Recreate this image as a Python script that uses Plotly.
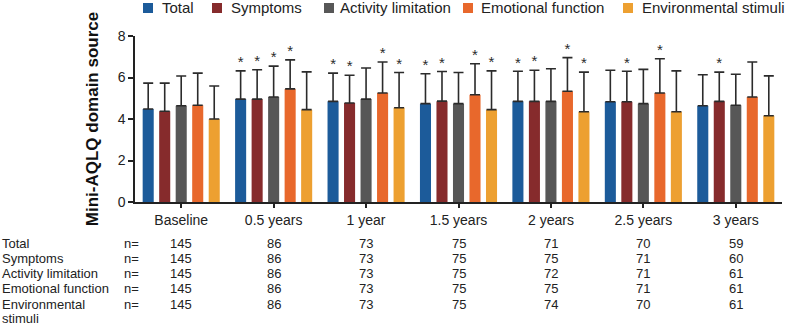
import plotly.graph_objects as go

categories = ["Baseline", "0.5 years", "1 year", "1.5 years", "2 years", "2.5 years", "3 years"]
series_names = ["Total", "Symptoms", "Activity limitation", "Emotional function", "Environmental stimuli"]
colors = ["#1c5b9a", "#862b2c", "#575757", "#e8682c", "#eda031"]

# mean values
total_mean = [4.48, 4.96, 4.85, 4.74, 4.85, 4.83, 4.64]
symptoms_mean = [4.37, 4.96, 4.77, 4.86, 4.85, 4.83, 4.85]
activity_mean = [4.64, 5.06, 4.96, 4.74, 4.85, 4.74, 4.66]
emotional_mean = [4.66, 5.45, 5.25, 5.17, 5.34, 5.25, 5.06]
environmental_mean = [4.00, 4.45, 4.54, 4.45, 4.35, 4.35, 4.16]

# upper end of error bars (mean + SD)
total_upper = [5.73, 6.32, 6.21, 6.18, 6.30, 6.35, 6.13]
symptoms_upper = [5.73, 6.37, 6.11, 6.29, 6.35, 6.30, 6.26]
activity_upper = [6.07, 6.55, 6.46, 6.24, 6.42, 6.39, 6.16]
emotional_upper = [6.21, 6.85, 6.75, 6.66, 6.96, 6.90, 6.75]
environmental_upper = [5.59, 6.27, 6.24, 6.32, 6.26, 6.32, 6.08]

# significance markers (1 = star)
total_sig = [0, 1, 1, 1, 1, 0, 0]
symptoms_sig = [0, 1, 1, 1, 1, 1, 1]
activity_sig = [0, 1, 0, 0, 0, 0, 0]
emotional_sig = [0, 1, 1, 1, 1, 1, 0]
environmental_sig = [0, 0, 1, 1, 1, 0, 0]

# sample sizes per row
n_total = [145, 86, 73, 75, 71, 70, 59]
n_symptoms = [145, 86, 73, 75, 75, 71, 60]
n_activity = [145, 86, 73, 75, 72, 71, 61]
n_emotional = [145, 86, 73, 75, 75, 71, 61]
n_environmental = [145, 86, 73, 75, 74, 70, 61]

table_labels = [["Total"], ["Symptoms"], ["Activity limitation"], ["Emotional function"],
                ["Environmental", "stimuli"]]

means = [total_mean, symptoms_mean, activity_mean, emotional_mean, environmental_mean]
uppers = [total_upper, symptoms_upper, activity_upper, emotional_upper, environmental_upper]
sigs = [total_sig, symptoms_sig, activity_sig, emotional_sig, environmental_sig]
ns = [n_total, n_symptoms, n_activity, n_emotional, n_environmental]

FONT = "Arial, Liberation Sans, sans-serif"
TXT = "#222222"

fig = go.Figure()
for i, name in enumerate(series_names):
    m = means[i]
    up = [u - v for u, v in zip(uppers[i], m)]
    fig.add_trace(go.Bar(
        x=categories, y=m, name=name, offsetgroup=str(i), showlegend=False,
        marker=dict(color=colors[i], line=dict(width=0)),
        error_y=dict(type="data", symmetric=False, array=up,
                     arrayminus=[0] * len(m), color="#2b2b2b",
                     thickness=1.6, width=5),
    ))

for i, name in enumerate(series_names):
    txt = ["*" if s else "" for s in sigs[i]]
    fig.add_trace(go.Scatter(
        x=categories, y=uppers[i], mode="text", text=txt,
        textposition="top center", offsetgroup=str(i),
        textfont=dict(size=15, color="#2b2b2b", family=FONT),
        showlegend=False, hoverinfo="skip",
    ))

W, H = 785, 325
plot_left, plot_right, plot_top, plot_bottom = 135, 782, 36, 202
pw = plot_right - plot_left
ph = plot_bottom - plot_top

def px_to_paper_x(px):
    return (px - plot_left) / pw

def py_to_paper_y(py):
    return (plot_bottom - py) / ph

shapes = []
annotations = []

# legend (swatch + label) along the top
legend_swatch_px = [143, 212, 324, 463, 623]
legend_text_px = [160, 229, 338, 479, 640]
legend_y = 8
for i, name in enumerate(series_names):
    shapes.append(dict(
        type="rect", xref="paper", yref="paper",
        x0=px_to_paper_x(legend_swatch_px[i]), x1=px_to_paper_x(legend_swatch_px[i] + 10),
        y0=py_to_paper_y(legend_y + 5), y1=py_to_paper_y(legend_y - 5),
        fillcolor=colors[i], line=dict(width=0),
    ))
    annotations.append(dict(
        x=px_to_paper_x(legend_text_px[i]), y=py_to_paper_y(legend_y), xref="paper", yref="paper",
        text=name, showarrow=False, xanchor="left", yanchor="middle",
        font=dict(size=15, color=TXT, family=FONT),
    ))

# n= table
row_y = [243, 258, 273, 288, 304]
for r, lines in enumerate(table_labels):
    for k, line in enumerate(lines):
        annotations.append(dict(
            x=px_to_paper_x(0), y=py_to_paper_y(row_y[r] + 14 * k), xref="paper", yref="paper",
            text=line, showarrow=False, xanchor="left", yanchor="middle", align="left",
            font=dict(size=13, color=TXT, family=FONT),
        ))
    annotations.append(dict(
        x=px_to_paper_x(122), y=py_to_paper_y(row_y[r]), xref="paper", yref="paper",
        text="n=", showarrow=False, xanchor="left", yanchor="middle",
        font=dict(size=13, color=TXT, family=FONT),
    ))
    for c, cat in enumerate(categories):
        annotations.append(dict(
            x=cat, y=py_to_paper_y(row_y[r]), xref="x", yref="paper",
            text=str(ns[r][c]), showarrow=False, xanchor="center", yanchor="middle",
            font=dict(size=13, color=TXT, family=FONT),
        ))

fig.update_layout(
    width=W, height=H,
    margin=dict(l=plot_left, r=W - plot_right, t=plot_top, b=H - plot_bottom),
    paper_bgcolor="white", plot_bgcolor="white",
    barmode="group", bargap=0.107, bargroupgap=0.33,
    scattermode="group", scattergap=0.107,
    font=dict(family=FONT, color=TXT),
    showlegend=False,
    xaxis=dict(type="category", showline=True, linecolor=TXT, linewidth=1.5,
               ticks="outside", ticklen=4, tickcolor=TXT, tickwidth=1.5,
               tickfont=dict(size=14, family=FONT, color=TXT),
               showgrid=False, zeroline=False, range=[-0.5, 6.5], automargin=False),
    yaxis=dict(range=[0, 8], tickvals=[0, 2, 4, 6, 8], showline=True,
               linecolor=TXT, linewidth=1.5, ticks="outside", ticklen=5,
               tickcolor=TXT, tickwidth=1.5,
               tickfont=dict(size=14, family=FONT, color=TXT),
               showgrid=False, zeroline=False, automargin=False,
               title=dict(text="<b>Mini-AQLQ domain source</b>",
                          font=dict(size=17, family=FONT, color="#111111"),
                          standoff=15)),
    shapes=shapes,
    annotations=annotations,
)

fig.write_html("out.html", config={"displayModeBar": False},
               post_script="document.body.style.margin='0';")
